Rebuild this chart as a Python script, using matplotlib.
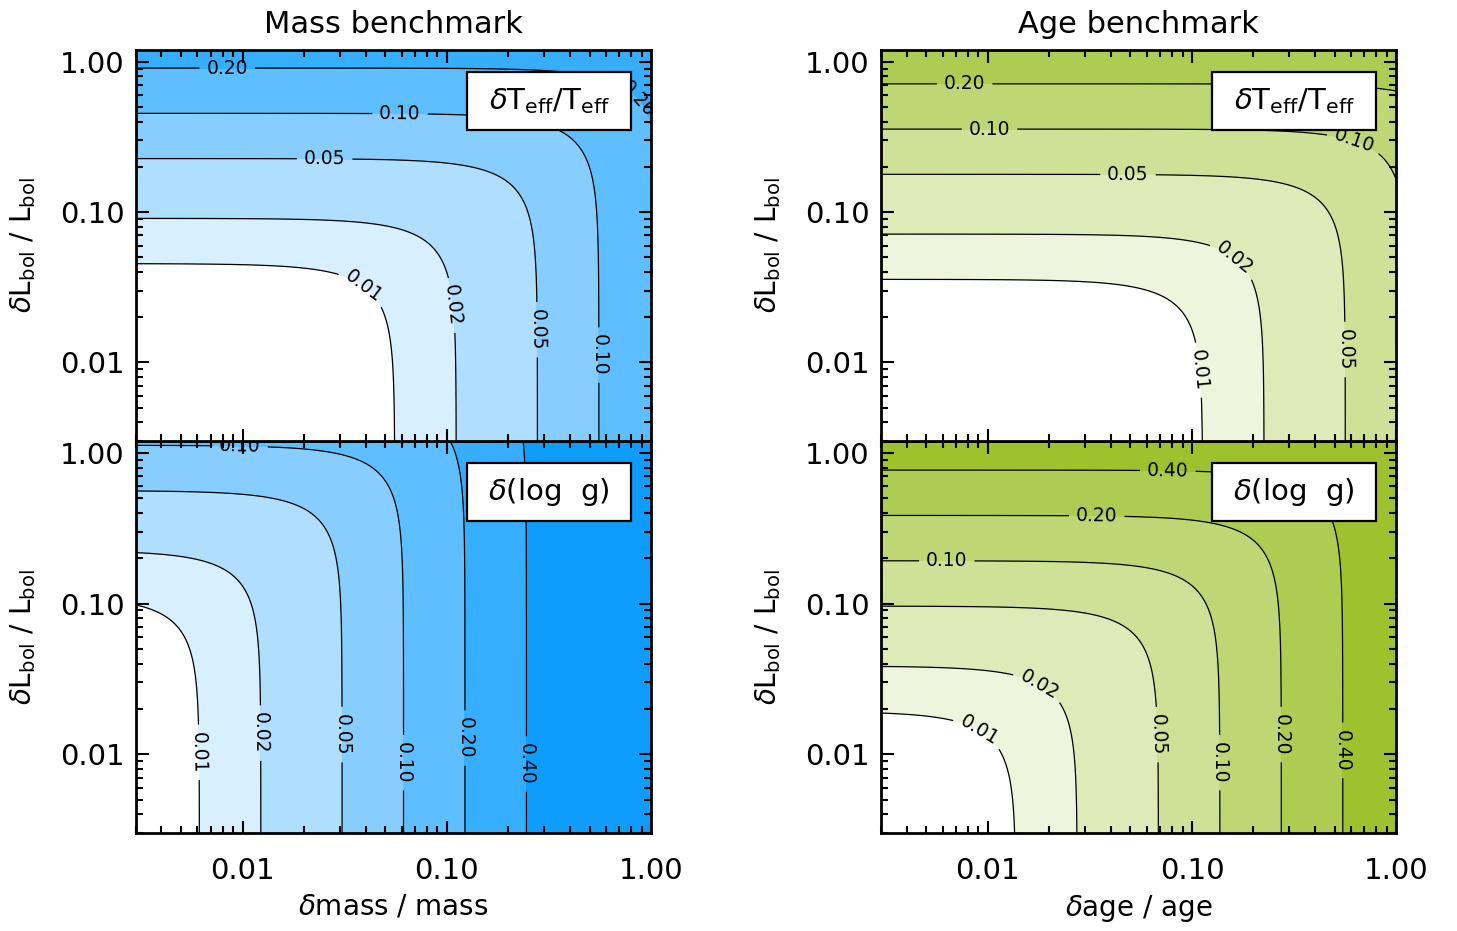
import matplotlib

matplotlib.use("Agg")
import matplotlib.pyplot as plt
import numpy as np
from matplotlib.colors import to_rgb
from matplotlib.patches import Rectangle
from matplotlib.ticker import FixedLocator, FixedFormatter, LogLocator, NullFormatter

# contour levels and axis ticks
LEVELS = [0.01, 0.02, 0.05, 0.10, 0.20, 0.40]
TICK_VALUES = [0.01, 0.1, 1.0]
TICK_LABELS = ["0.01", "0.10", "1.00"]
X_RANGE = (0.003, 1.0)
Y_RANGE = (0.003, 1.2)

# error sensitivities: [d(benchmark)/benchmark, dLbol/Lbol]
MASS_TEFF_COEFFS = [0.18, 0.22]
MASS_LOGG_COEFFS = [1.63, 0.089]
AGE_TEFF_COEFFS = [0.0887, 0.28]
AGE_LOGG_COEFFS = [0.73, 0.52]

# where the inline contour labels sit (x, y)
MASS_TEFF_LABEL_AT = [(0.0084, 0.98), (0.059, 0.47), (0.0252, 0.23), (0.0396, 0.033),
                      (0.107, 0.024), (0.279, 0.0165), (0.56, 0.0112), (0.9, 0.6)]
MASS_LOGG_LABEL_AT = [(0.0097, 1.12), (0.0063, 0.0103), (0.0123, 0.0138), (0.0305, 0.0135),
                      (0.061, 0.0088), (0.123, 0.0128), (0.245, 0.0086)]
AGE_TEFF_LABEL_AT = [(0.0077, 0.75), (0.0102, 0.36), (0.0486, 0.18), (0.159, 0.048),
                     (0.109, 0.0089), (0.565, 0.0122), (0.63, 0.314)]
AGE_LOGG_LABEL_AT = [(0.0762, 0.78), (0.0342, 0.39), (0.0063, 0.19), (0.018, 0.0297),
                     (0.0089, 0.0138), (0.068, 0.0135), (0.137, 0.0088), (0.274, 0.0135),
                     (0.55, 0.0106)]

BLUE = "#0f9dfd"
GREEN = "#9dc22e"

plt.rcParams["font.family"] = ["DejaVu Sans"]
plt.rcParams["mathtext.fontset"] = "dejavusans"


def band_colors(base):
    white = np.ones(3)
    top = np.array(to_rgb(base))
    return [tuple(white + (top - white) * k / 6.0) for k in range(7)]


def draw_panel(axis, coeffs, label_at, base, tag, show_x):
    # scales first, so inline label gaps are cut in log space
    axis.set_xscale("log")
    axis.set_yscale("log")
    axis.set_xlim(*X_RANGE)
    axis.set_ylim(*Y_RANGE)

    x = np.logspace(-2.6, 0.05, 500)
    y = np.logspace(-2.6, 0.15, 500)
    xx, yy = np.meshgrid(x, y)
    field = np.hypot(coeffs[0] * xx, coeffs[1] * yy)

    bounds = [0.0] + LEVELS + [100.0]
    axis.contourf(xx, yy, field, levels=bounds, colors=band_colors(base))
    lines = axis.contour(xx, yy, field, levels=LEVELS, colors="black", linewidths=0.9)
    texts = axis.clabel(lines, fmt="%.2f", fontsize=13.5, inline=True,
                        inline_spacing=7, manual=label_at)
    for text in texts:
        text.set_clip_on(True)
        rot = text.get_rotation() % 360
        if 80 < rot < 100:
            text.set_rotation(rot + 180)
    axis.set_xlim(*X_RANGE)
    axis.set_ylim(*Y_RANGE)

    for which_axis in (axis.xaxis, axis.yaxis):
        which_axis.set_major_locator(FixedLocator(TICK_VALUES))
        which_axis.set_major_formatter(FixedFormatter(TICK_LABELS))
        which_axis.set_minor_locator(LogLocator(base=10, subs=np.arange(2, 10)))
        which_axis.set_minor_formatter(NullFormatter())
    axis.tick_params(which="both", direction="in", top=True, right=True, width=1.5,
                     labelsize=21)
    axis.tick_params(which="major", length=9)
    axis.tick_params(which="minor", length=5)
    axis.tick_params(axis="y", pad=8)
    axis.tick_params(axis="x", pad=17, labelbottom=show_x)
    for spine in axis.spines.values():
        spine.set_linewidth(2.0)
        spine.set_zorder(5)

    axis.add_patch(Rectangle((0.643, 0.795), 0.318, 0.148, transform=axis.transAxes,
                             facecolor="white", edgecolor="black", linewidth=1.6,
                             zorder=10))
    axis.text(0.802, 0.869, tag, transform=axis.transAxes, ha="center", va="center",
              fontsize=21, zorder=11)
    axis.set_ylabel(r"$\delta$L$_{\rm bol}$ / L$_{\rm bol}$", fontsize=20, labelpad=16)


figure = plt.figure(figsize=(14.57, 9.31), dpi=100)
left_x, right_x, width = 0.0933, 0.6047, 0.3535
lower_y, upper_y, height = 0.1053, 0.5263, 0.421

teff_tag = r"$\delta$T$_{\rm eff}$/T$_{\rm eff}$"
logg_tag = r"$\delta$(log  g)"

mass_logg = figure.add_axes([left_x, lower_y, width, height])
draw_panel(mass_logg, MASS_LOGG_COEFFS, MASS_LOGG_LABEL_AT, BLUE, logg_tag, True)
mass_logg.set_xlabel(r"$\delta$mass / mass", fontsize=20, labelpad=6)

mass_teff = figure.add_axes([left_x, upper_y, width, height - 0.001])
draw_panel(mass_teff, MASS_TEFF_COEFFS, MASS_TEFF_LABEL_AT, BLUE, teff_tag, False)
mass_teff.set_title("Mass benchmark", fontsize=22, pad=12)

age_logg = figure.add_axes([right_x, lower_y, width, height])
draw_panel(age_logg, AGE_LOGG_COEFFS, AGE_LOGG_LABEL_AT, GREEN, logg_tag, True)
age_logg.set_xlabel(r"$\delta$age / age", fontsize=20, labelpad=6)

age_teff = figure.add_axes([right_x, upper_y, width, height - 0.001])
draw_panel(age_teff, AGE_TEFF_COEFFS, AGE_TEFF_LABEL_AT, GREEN, teff_tag, False)
age_teff.set_title("Age benchmark", fontsize=22, pad=12)

figure.savefig("out.png", dpi=100)
